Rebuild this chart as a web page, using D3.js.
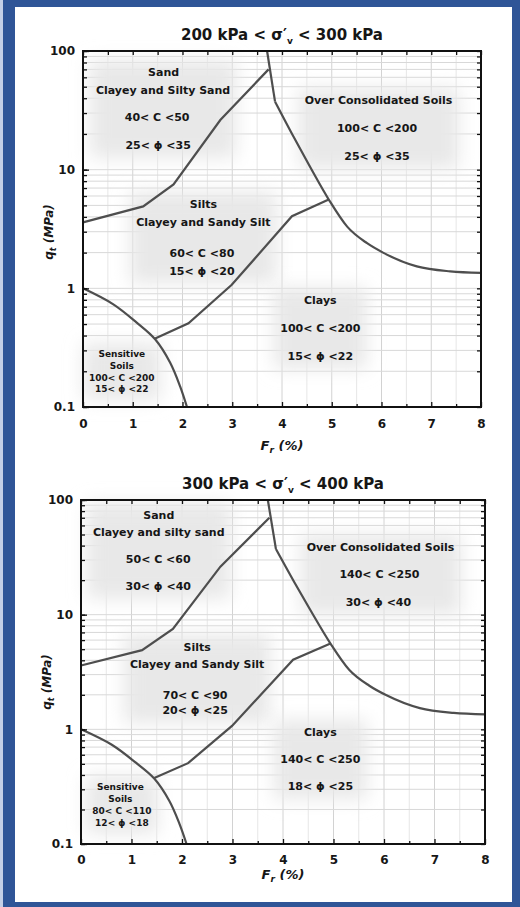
<!DOCTYPE html>
<html>
<head>
<meta charset="utf-8">
<script src="https://cdn.jsdelivr.net/npm/d3@7"></script>
<style>
  body { margin: 0; background: #fff; }
  text { font-family: "DejaVu Sans", sans-serif; font-weight: bold; fill: #161616; }
</style>
</head>
<body>
<div id="chart"></div>
<script>
// axis ticks
const frTicks = [0, 1, 2, 3, 4, 5, 6, 7, 8];
const qtTicks = [0.1, 1, 10, 100];
const qtTickLabels = ['0.1', '1', '10', '100'];

// boundaries (Fr in %, qt in MPa) - same in both panels
const sandSiltFr = [0, 1.21, 1.82, 2.76, 3.73];
const sandSiltQt = [3.6, 4.9, 7.5, 26.2, 70];
const ocTopFr = [3.70, 3.86];
const ocTopQt = [100, 37.4];
const ocCurveFr = [3.86, 4.23, 4.53, 4.94, 5.31, 5.71, 6.04, 6.71, 7.38, 8];
const ocCurveQt = [37.4, 19, 11.2, 5.6, 3.31, 2.4, 1.99, 1.53, 1.39, 1.35];
const siltClayFr = [1.45, 2.12, 2.99, 4.2, 4.94];
const siltClayQt = [0.377, 0.507, 1.07, 4.05, 5.6];
const sensitiveFr = [0, 0.61, 1.08, 1.45, 1.75, 1.95, 2.09];
const sensitiveQt = [1.0, 0.733, 0.514, 0.372, 0.237, 0.15, 0.1];

// zone labels, anchored in data units
const zones200 = [
  { text: ['Sand', 'Clayey and Silty Sand', '40< C <50', '25< ϕ <35'], fr: [1.62, 1.61, 1.49, 1.51], qt: [66, 47, 27.6, 16.1] },
  { text: ['Over Consolidated Soils', '100< C <200', '25< ϕ <35'], fr: [5.94, 5.91, 5.91], qt: [38.6, 22.3, 13.1] },
  { text: ['Silts', 'Clayey and Sandy Silt', '60< C <80', '15< ϕ <20'], fr: [2.42, 2.42, 2.39, 2.39], qt: [5.12, 3.65, 2.0, 1.41] },
  { text: ['Clays', '100< C <200', '15< ϕ <22'], fr: [4.77, 4.77, 4.77], qt: [0.8, 0.467, 0.271] },
  { text: ['Sensitive', 'Soils', '100< C <200', '15< ϕ <22'], fr: [0.78, 0.78, 0.78, 0.78], qt: [0.28, 0.223, 0.178, 0.142], small: true }
];
const zones300 = [
  { text: ['Sand', 'Clayey and silty sand', '50< C <60', '30< ϕ <40'], fr: [1.54, 1.54, 1.53, 1.53], qt: [74, 53, 30.6, 17.8] },
  { text: ['Over Consolidated Soils', '140< C <250', '30< ϕ <40'], fr: [5.93, 5.91, 5.89], qt: [39.2, 22.6, 13] },
  { text: ['Silts', 'Clayey and Sandy Silt', '70< C <90', '20< ϕ <25'], fr: [2.3, 2.3, 2.26, 2.26], qt: [5.26, 3.72, 2.0, 1.46] },
  { text: ['Clays', '140< C <250', '18< ϕ <25'], fr: [4.74, 4.74, 4.74], qt: [0.948, 0.556, 0.318] },
  { text: ['Sensitive', 'Soils', '80< C <110', '12< ϕ <18'], fr: [0.78, 0.78, 0.81, 0.81], qt: [0.313, 0.247, 0.195, 0.154], small: true }
];

const W = 520, H = 907;
const svg = d3.select('#chart').append('svg')
  .attr('width', W)
  .attr('height', H);

// blue frame
svg.append('rect').attr('width', W).attr('height', H).attr('fill', '#2f5597');
svg.append('rect').attr('width', 3).attr('height', H).attr('fill', '#c4cfe6');
svg.append('rect').attr('x', 15).attr('y', 7).attr('width', 497).attr('height', 895).attr('fill', '#fff');

svg.append('defs').append('filter')
  .attr('id', 'soft')
  .attr('x', '-50%').attr('y', '-50%').attr('width', '200%').attr('height', '200%')
  .append('feGaussianBlur').attr('stdDeviation', 9);

const zip = (a, b) => a.map((v, i) => [v, b[i]]);

function drawPanel(p) {
  const x = d3.scaleLinear().domain([0, 8]).range([p.left, p.right]);
  const y = d3.scaleLog().domain([0.1, 100]).range([p.bottom, p.top]);

  const g = svg.append('g');
  const gridG = g.append('g');
  const shadeG = g.append('g');
  const curveG = g.append('g');
  const textG = g.append('g');
  const axisG = g.append('g');

  const halfTicks = d3.range(0.5, 8, 1);
  const logTicks = y.ticks();

  // grid
  gridG.selectAll('line.v')
    .data(d3.range(0.5, 8, 0.5))
    .join('line')
    .attr('x1', d => x(d)).attr('x2', d => x(d))
    .attr('y1', p.top).attr('y2', p.bottom)
    .attr('stroke', d => d % 1 === 0 ? '#d2d2d2' : '#e6e6e6');
  gridG.selectAll('line.h')
    .data(logTicks.slice(1, -1))
    .join('line')
    .attr('x1', p.left).attr('x2', p.right)
    .attr('y1', d => y(d)).attr('y2', d => y(d))
    .attr('stroke', '#d8d8d8');

  // boundaries
  const line = d3.line().x(d => x(d[0])).y(d => y(d[1]));
  const curves = [
    [zip(sandSiltFr, sandSiltQt), d3.curveLinear],
    [zip(ocTopFr, ocTopQt), d3.curveLinear],
    [zip(ocCurveFr, ocCurveQt), d3.curveMonotoneX],
    [zip(siltClayFr, siltClayQt), d3.curveLinear],
    [zip(sensitiveFr, sensitiveQt), d3.curveCatmullRom.alpha(0.5)]
  ];
  curves.forEach(([pts, c]) => {
    curveG.append('path')
      .attr('d', line.curve(c)(pts))
      .attr('fill', 'none')
      .attr('stroke', '#4e4e4e')
      .attr('stroke-width', 2.2);
  });

  // zone labels with soft grey patch behind
  p.zones.forEach(z => {
    const bg = textG.append('g');
    z.text.forEach((t, i) => {
      bg.append('text')
        .attr('x', x(z.fr[i]))
        .attr('y', y(z.qt[i]))
        .attr('dy', '0.36em')
        .attr('text-anchor', 'middle')
        .style('font-size', z.small ? '9px' : '11px')
        .text(t);
    });
    const bb = bg.node().getBBox();
    shadeG.append('rect')
      .attr('x', bb.x - 6).attr('y', bb.y - 6)
      .attr('width', bb.width + 12).attr('height', bb.height + 12)
      .attr('fill', '#e8e8e8')
      .attr('filter', 'url(#soft)');
  });

  // axes: ticks point inward
  const bottom = axisG.append('g').attr('transform', `translate(0,${p.bottom})`);
  bottom.call(d3.axisBottom(x).tickValues(frTicks).tickSize(-5).tickSizeOuter(0)
    .tickPadding(p.tickPad).tickFormat(d3.format('d')));
  bottom.append('g').call(d3.axisBottom(x).tickValues(halfTicks).tickSize(-3).tickSizeOuter(0).tickFormat(''));

  axisG.append('g').attr('transform', `translate(0,${p.top})`)
    .call(d3.axisTop(x).tickValues(frTicks.concat(halfTicks)).tickSize(-4).tickSizeOuter(0).tickFormat(''));

  const left = axisG.append('g').attr('transform', `translate(${p.left},0)`);
  left.call(d3.axisLeft(y).tickValues(qtTicks).tickSize(-6).tickSizeOuter(0).tickPadding(8)
    .tickFormat((d, i) => qtTickLabels[i]));
  left.append('g').call(d3.axisLeft(y).tickValues(logTicks).tickSize(-4).tickSizeOuter(0).tickFormat(''));

  axisG.append('g').attr('transform', `translate(${p.right},0)`)
    .call(d3.axisRight(y).tickValues(logTicks).tickSize(-4).tickSizeOuter(0).tickFormat(''));

  axisG.selectAll('.domain').remove();
  axisG.selectAll('.tick line').attr('stroke', '#111').attr('stroke-width', 1.3);
  axisG.selectAll('.tick text')
    .style('font-family', '"DejaVu Sans", sans-serif')
    .style('font-weight', 'bold')
    .style('font-size', '12px')
    .attr('fill', '#161616');

  axisG.append('rect')
    .attr('x', p.left).attr('y', p.top)
    .attr('width', p.right - p.left).attr('height', p.bottom - p.top)
    .attr('fill', 'none')
    .attr('stroke', '#111')
    .attr('stroke-width', 2);

  // title
  const title = g.append('text')
    .attr('x', (p.left + p.right) / 2)
    .attr('y', p.top - 11)
    .attr('text-anchor', 'middle')
    .style('font-size', '15px');
  title.append('tspan').text(p.lo + ' kPa < σ\u2032');
  title.append('tspan').attr('dy', 4).style('font-size', '9px').text('v');
  title.append('tspan').attr('dy', -4).text(' < ' + p.hi + ' kPa');

  // axis titles
  const xt = g.append('text')
    .attr('x', (p.left + p.right) / 2)
    .attr('y', p.bottom + p.xTitleGap)
    .attr('text-anchor', 'middle')
    .style('font-size', '13px')
    .style('font-style', 'italic');
  xt.append('tspan').text('F');
  xt.append('tspan').attr('dy', 3).style('font-size', '9px').text('r');
  xt.append('tspan').attr('dy', -3).text(' (%)');

  const yt = g.append('text')
    .attr('transform', `translate(${p.yTitleX},${p.yTitleY}) rotate(-90)`)
    .attr('text-anchor', 'middle')
    .style('font-size', '12px')
    .style('font-style', 'italic');
  yt.append('tspan').text('q');
  yt.append('tspan').attr('dy', 3).style('font-size', '8px').text('t');
  yt.append('tspan').attr('dy', -3).text(' (MPa)');
}

drawPanel({ left: 83, right: 481, top: 51, bottom: 407, tickPad: 12, xTitleGap: 43,
  yTitleX: 53, yTitleY: 232, lo: 200, hi: 300, zones: zones200 });
drawPanel({ left: 81, right: 485, top: 500, bottom: 844, tickPad: 11, xTitleGap: 35,
  yTitleX: 51, yTitleY: 682, lo: 300, hi: 400, zones: zones300 });
</script>
</body>
</html>
